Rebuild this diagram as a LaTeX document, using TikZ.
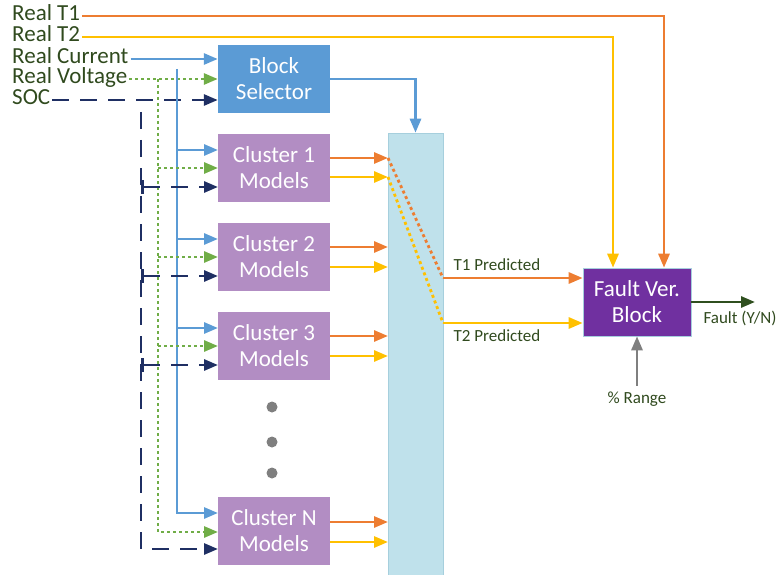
\documentclass[tikz,border=0pt]{standalone}
\usepackage{fontspec}
\setmainfont{Carlito}
\usetikzlibrary{arrows.meta}

\definecolor{tOrange}{HTML}{ED7D31}
\definecolor{tYellow}{HTML}{FFC000}
\definecolor{curBlue}{HTML}{5B9BD5}
\definecolor{voltGreen}{HTML}{70AD47}
\definecolor{socNavy}{HTML}{1F2F63}
\definecolor{selectFill}{HTML}{5B9BD5}
\definecolor{clusterFill}{HTML}{B28DC3}
\definecolor{faultFill}{HTML}{7030A0}
\definecolor{muxFill}{HTML}{BFE1EB}
\definecolor{muxEdge}{HTML}{A6CFDD}
\definecolor{labelGreen}{HTML}{304A1E}
\definecolor{outGreen}{HTML}{2F4F1F}
\definecolor{dotGray}{HTML}{7F7F7F}

\tikzset{
  inlabel/.style={anchor=west, inner xsep=2pt, inner ysep=0pt, text height=13pt, text depth=3pt, text=labelGreen, font=\fontsize{23}{26}\selectfont},
  block/.style={minimum width=112pt, minimum height=68pt, inner sep=0pt, align=center, text=white, font=\fontsize{23}{26}\selectfont},
  mux/.style={minimum width=55pt, minimum height=442pt, fill=muxFill, draw=muxEdge, line width=0.6pt},
  greydot/.style={circle, fill=dotGray, minimum size=11pt, inner sep=0pt},
  note/.style={text=labelGreen, font=\fontsize{17}{20}\selectfont, inner sep=1pt},
  wire/.style={line width=2.8pt},
  dotwire/.style={line width=2.8pt, dash pattern=on 3pt off 3pt},
  dashwire/.style={line width=2.8pt, dash pattern=on 17pt off 11pt},
  arrowhead/.style={-{Triangle[length=14pt,width=11pt]}},
  bararrow/.style={{Bar[width=14pt]}-{Triangle[length=14pt,width=11pt]}},
}

\begin{document}
\begin{tikzpicture}[x=1pt,y=-1pt]
   \useasboundingbox (0,0) rectangle (779,575);

   \node (RealT1) at (10,16) [inlabel] {Real T1};
   \node (RealT2) at (10,37) [inlabel] {Real T2};
   \node (RealCurrent) at (10,59) [inlabel] {Real Current};
   \node (RealVoltage) at (10,79) [inlabel] {Real Voltage};
   \node (SOC) at (10,100) [inlabel] {SOC};

   \node (Selector) at (274,79) [block, fill=selectFill] {Block\\Selector};
   \node (Cluster1) at (274,168) [block, fill=clusterFill] {Cluster 1\\Models};
   \node (Cluster2) at (274,257) [block, fill=clusterFill] {Cluster 2\\Models};
   \node (Cluster3) at (274,346) [block, fill=clusterFill] {Cluster 3\\Models};
   \node (ClusterN) at (274,531) [block, fill=clusterFill] {Cluster N\\Models};

   \node (Dot1) at (272,407) [greydot] {};
   \node (Dot2) at (272,442) [greydot] {};
   \node (Dot3) at (272,473) [greydot] {};

   \node (Mux) at (415.5,354) [mux] {};
   \node (Fault) at (637,302) [block, minimum width=108pt, fill=faultFill, draw=muxEdge, line width=0.6pt] {Fault Ver.\\Block};

   \node (T1Label) at (497,265) [note] {T1 Predicted};
   \node (T2Label) at (497,336) [note] {T2 Predicted};
   \node (FaultLabel) at (740,318) [note] {Fault (Y/N)};
   \node (Range) at (637,399) [note] {\% Range};

   \coordinate (CurTop) at (177,69);
   \coordinate (VoltTop) at (158,79);
   \coordinate (SocTop) at (141,112);

   \coordinate (Cur1) at (218,150);
   \coordinate (Volt1) at (218,168);
   \coordinate (Soc1) at (218,187);
   \coordinate (Cur2) at (218,239);
   \coordinate (Volt2) at (218,257);
   \coordinate (Soc2) at (218,276);
   \coordinate (Cur3) at (218,328);
   \coordinate (Volt3) at (218,346);
   \coordinate (Soc3) at (218,365);
   \coordinate (CurN) at (218,513);
   \coordinate (VoltN) at (218,532);
   \coordinate (SocN) at (218,549);

   \coordinate (Or1) at (388,158);
   \coordinate (Ye1) at (388,177);
   \coordinate (Or2) at (388,247);
   \coordinate (Ye2) at (388,267);
   \coordinate (Or3) at (388,336);
   \coordinate (Ye3) at (388,356);
   \coordinate (OrN) at (388,522);
   \coordinate (YeN) at (388,542);

   \coordinate (T1Bend) at (443,278);
   \coordinate (T2Bend) at (443,323);
   \coordinate (FaultEnd) at (755,302);

   \draw [tOrange, wire, arrowhead] (RealT1.east) -| ([xshift=27pt]Fault.north);
   \draw [tYellow, wire, arrowhead] (RealT2.east) -| ([xshift=-24pt]Fault.north);
   \draw [curBlue, wire, arrowhead] (RealCurrent.east) -- (RealCurrent.east -| Selector.west);
   \draw [voltGreen, dotwire, arrowhead] (RealVoltage.east) -- (RealVoltage.east -| Selector.west);
   \draw [socNavy, dashwire, arrowhead] (SOC.east) -- (SOC.east -| Selector.west);
   \draw [curBlue, wire, arrowhead] (Selector.east) -| (Mux.north);

   \draw [curBlue, wire, arrowhead] (CurTop) |- (CurN);
   \draw [voltGreen, dotwire, arrowhead] (VoltTop) |- (VoltN);
   \draw [socNavy, dashwire, arrowhead] (SocTop) |- (SocN);

   \draw [curBlue, wire, arrowhead] (Cur1 -| CurTop) -- (Cur1);
   \draw [voltGreen, dotwire, arrowhead] (Volt1 -| VoltTop) -- (Volt1);
   \draw [socNavy, dashwire, bararrow] (Soc1 -| SocTop) -- (Soc1);
   \draw [curBlue, wire, arrowhead] (Cur2 -| CurTop) -- (Cur2);
   \draw [voltGreen, dotwire, arrowhead] (Volt2 -| VoltTop) -- (Volt2);
   \draw [socNavy, dashwire, bararrow] (Soc2 -| SocTop) -- (Soc2);
   \draw [curBlue, wire, arrowhead] (Cur3 -| CurTop) -- (Cur3);
   \draw [voltGreen, dotwire, arrowhead] (Volt3 -| VoltTop) -- (Volt3);
   \draw [socNavy, dashwire, bararrow] (Soc3 -| SocTop) -- (Soc3);

   \draw [tOrange, wire, arrowhead] (Or1 -| Cluster1.east) -- (Or1);
   \draw [tYellow, wire, arrowhead] (Ye1 -| Cluster1.east) -- (Ye1);
   \draw [tOrange, wire, arrowhead] (Or2 -| Cluster2.east) -- (Or2);
   \draw [tYellow, wire, arrowhead] (Ye2 -| Cluster2.east) -- (Ye2);
   \draw [tOrange, wire, arrowhead] (Or3 -| Cluster3.east) -- (Or3);
   \draw [tYellow, wire, arrowhead] (Ye3 -| Cluster3.east) -- (Ye3);
   \draw [tOrange, wire, arrowhead] (OrN -| ClusterN.east) -- (OrN);
   \draw [tYellow, wire, arrowhead] (YeN -| ClusterN.east) -- (YeN);

   \draw [tOrange, dotwire] (Or1) -- (T1Bend);
   \draw [tYellow, dotwire] (Ye1) -- (T2Bend);
   \draw [tOrange, wire, arrowhead] (T1Bend) -- (T1Bend -| Fault.west);
   \draw [tYellow, wire, arrowhead] (T2Bend) -- (T2Bend -| Fault.west);

   \draw [outGreen, wire, arrowhead] (Fault.east) -- (FaultEnd);
   \draw [dotGray, wire, arrowhead] ([yshift=5pt]Range.north) -- (Fault.south);

\end{tikzpicture}
\end{document}
